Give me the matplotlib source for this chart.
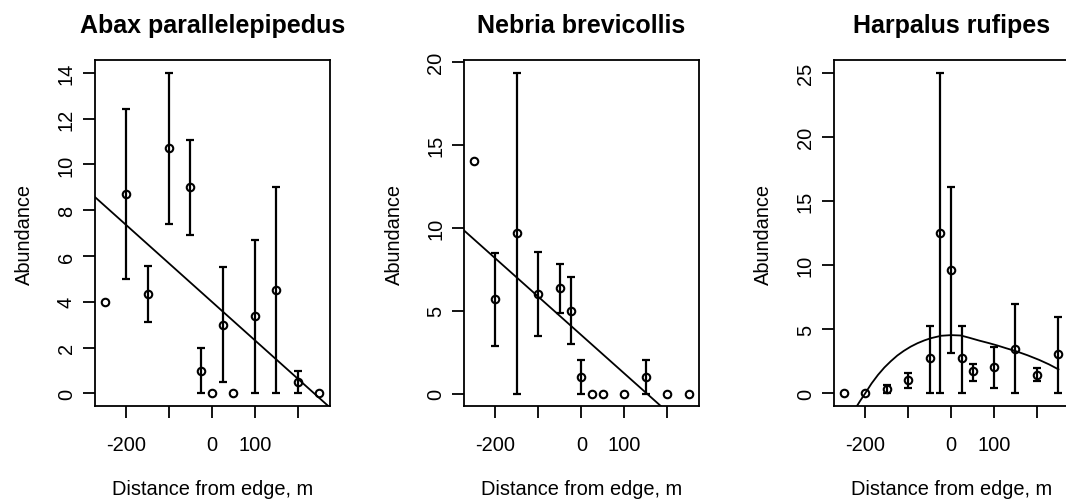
import matplotlib
matplotlib.use("Agg")
import matplotlib.pyplot as plt
import numpy as np

plt.rcParams['font.family'] = ['Liberation Sans', 'DejaVu Sans']

nan = np.nan

# distance from edge (m), same sampling points for every species
distance = [-250, -200, -150, -100, -50, -25, 0, 25, 50, 100, 150, 200, 250]

# Abax parallelepipedus
abax_mean = [4.0, 8.7, 4.35, 10.7, 9.0, 1.0, 0.0, 3.0, 0.0, 3.38, 4.5, 0.5, 0.0]
abax_lo = [nan, 4.99, 3.14, 7.4, 6.93, 0.0, nan, 0.48, nan, 0.0, 0.0, 0.0, nan]
abax_hi = [nan, 12.41, 5.57, 14.0, 11.08, 2.0, nan, 5.53, nan, 6.68, 9.0, 1.0, nan]
abax_fit = (4.0, -0.0168)  # intercept, slope

# Nebria brevicollis
nebria_mean = [14.0, 5.67, 9.67, 6.0, 6.33, 5.0, 1.0, 0.0, 0.0, 0.0, 1.0, 0.0, 0.0]
nebria_lo = [nan, 2.89, 0.0, 3.46, 4.88, 3.0, 0.0, nan, nan, nan, 0.0, nan, nan]
nebria_hi = [nan, 8.45, 19.33, 8.54, 7.78, 7.0, 2.0, nan, nan, nan, 2.0, nan, nan]
nebria_fit = (3.52, -0.0231)

# Harpalus rufipes
harp_mean = [0.0, 0.0, 0.33, 1.03, 2.75, 12.5, 9.65, 2.75, 1.75, 2.03, 3.45, 1.45, 3.05]
harp_lo = [nan, nan, 0.0, 0.43, 0.0, 0.0, 3.17, 0.0, 1.0, 0.45, 0.0, 1.0, 0.0]
harp_hi = [nan, nan, 0.67, 1.63, 5.3, 25.0, 16.1, 5.3, 2.3, 3.65, 7.0, 1.97, 6.0]
# fitted curve
harp_curve_x = [-225, -212, -200, -185, -170, -155, -140, -125, -110, -94, -78,
                -62, -47, -23, 0, 23, 43, 66, 89, 108, 128, 151, 178, 205, 228, 250]
harp_curve_y = [-1.3, -0.6, 0.0, 0.78, 1.45, 2.03, 2.52, 2.96, 3.32, 3.65, 3.92,
                4.14, 4.31, 4.50, 4.55, 4.52, 4.34, 4.12, 3.92, 3.74, 3.53, 3.30, 2.98, 2.62, 2.27, 1.88]

titles = ['Abax parallelepipedus', 'Nebria brevicollis', 'Harpalus rufipes']
x_ticks = [-200, -100, 0, 100, 200]
x_ticklabels = ['-200', '', '0', '100', '']
y_ticks = [[0, 2, 4, 6, 8, 10, 12, 14], [0, 5, 10, 15, 20], [0, 5, 10, 15, 20, 25]]
y_limits = [(-0.56, 14.56), (-0.77, 20.1), (-1.0, 26.0)]

fig = plt.figure(figsize=(10.66, 5.02), dpi=100)

lefts = [0.0888, 0.4353, 0.7821]
axes = [fig.add_axes([l, 0.1886, 0.2205, 0.690]) for l in lefts]

def draw_points(ax, mean, lo, hi):
    x = np.array(distance, dtype=float)
    m = np.array(mean)
    lo = np.array(lo)
    hi = np.array(hi)
    ok = ~np.isnan(lo)
    ax.errorbar(x[ok], m[ok], yerr=[m[ok] - lo[ok], hi[ok] - m[ok]], fmt='none',
                ecolor='black', elinewidth=1.6, capsize=3.0, capthick=1.6)
    ax.plot(x, m, 'o', mfc='none', mec='black', ms=5.4, mew=1.5)

draw_points(axes[0], abax_mean, abax_lo, abax_hi)
draw_points(axes[1], nebria_mean, nebria_lo, nebria_hi)
draw_points(axes[2], harp_mean, harp_lo, harp_hi)

for ax, (a, b) in zip(axes[:2], [abax_fit, nebria_fit]):
    ax.axline((0, a), slope=b, color='black', lw=1.3)

axes[2].plot(harp_curve_x, harp_curve_y, color='black', lw=1.3)

for i, ax in enumerate(axes):
    ax.set_xlim(-273, 274)
    ax.set_ylim(*y_limits[i])
    ax.set_xticks(x_ticks)
    ax.set_xticklabels(x_ticklabels)
    ax.set_yticks(y_ticks[i])
    ax.set_yticklabels([str(v) for v in y_ticks[i]], rotation=90, va='center')
    ax.tick_params(axis='both', labelsize=14.4, length=8.3, width=1.3, color='black')
    ax.tick_params(axis='x', pad=12)
    ax.tick_params(axis='y', pad=5.3)
    for s in ax.spines.values():
        s.set_linewidth(1.3)
    ax.set_title(titles[i], fontsize=18, fontweight='bold', pad=20)
    ax.set_xlabel('Distance from edge, m', fontsize=14.4, labelpad=18)
    ax.set_ylabel('Abundance', fontsize=14.4, labelpad=16.3)

fig.savefig('out.png', dpi=100)
